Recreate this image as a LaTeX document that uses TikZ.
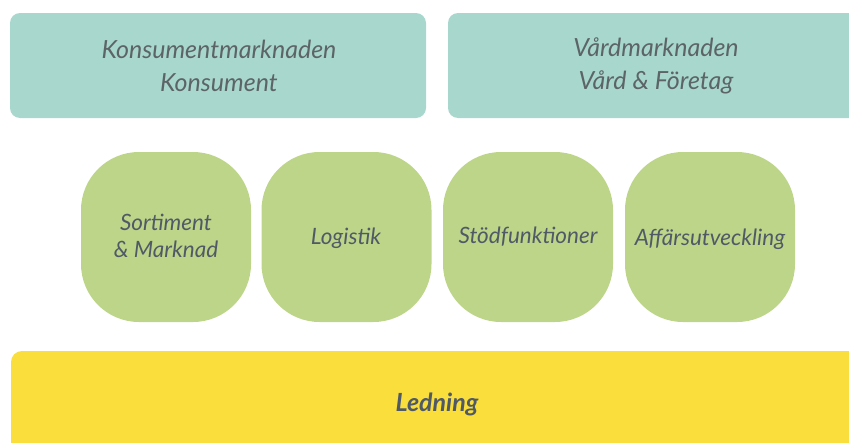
\documentclass[tikz,border=0pt]{standalone}
\usepackage{fontspec}
\setmainfont{Lato}
\definecolor{tealbox}{HTML}{A8D7CD}
\definecolor{greenbox}{HTML}{BDD589}
\definecolor{yellowbox}{HTML}{F9DE3C}
\definecolor{toptext}{HTML}{5C6467}
\definecolor{darktext}{HTML}{4F5A66}
% rounded square: centre x, centre y ; half size 85, corner radius 58 (flat half-length 27, control offset 32)
\newcommand{\roundsq}[2]{%
  \path[fill=greenbox] (#1+85,#2-27) -- (#1+85,#2+27)
    .. controls (#1+85,#2+59) and (#1+59,#2+85) .. (#1+27,#2+85) -- (#1-27,#2+85)
    .. controls (#1-59,#2+85) and (#1-85,#2+59) .. (#1-85,#2+27) -- (#1-85,#2-27)
    .. controls (#1-85,#2-59) and (#1-59,#2-85) .. (#1-27,#2-85) -- (#1+27,#2-85)
    .. controls (#1+59,#2-85) and (#1+85,#2-59) .. (#1+85,#2-27) -- cycle;}
\begin{document}
\begin{tikzpicture}[x=1pt,y=-1pt,
  topbox/.style={fill=tealbox, rounded corners=10pt},
  base/.style={fill=yellowbox, rounded corners=11pt},
  toplabel/.style={text=toptext, font=\fontsize{25}{33}\selectfont\itshape, align=center},
  unitlabel/.style={text=darktext, font=\fontsize{22.5}{27}\selectfont\itshape, align=center},
  baselabel/.style={text=darktext, font=\fontsize{25}{28}\selectfont\bfseries\itshape}]
\useasboundingbox (0,0) rectangle (849,442);
\clip (0,0) rectangle (849,442);
% top boxes
\path[topbox] (10,13) rectangle (426,118);
\path[topbox] (448,13) rectangle (870,118);
\node[toplabel] (konsument) at (219,66) {Konsumentmarknaden\\Konsument};
\node[toplabel] (vard) at (656,66) {Vårdmarknaden\\Vård \& Företag};
% units
\roundsq{166}{237}
\roundsq{346.5}{237}
\roundsq{528}{237}
\roundsq{710}{237}
\node[unitlabel] (sortiment) at (166,236) {Sortiment\\\& Marknad};
\node[unitlabel] (logistik) at (346,238) {Logistik};
\node[unitlabel] (stod) at (528,237) {Stödfunktioner};
\node[unitlabel] (affar) at (710,239) {Affärsutveckling};
% base
\path[base] (11,351) rectangle (870,470);
\node[baselabel] (ledning) at (437,404) {Ledning};
\end{tikzpicture}
\end{document}
